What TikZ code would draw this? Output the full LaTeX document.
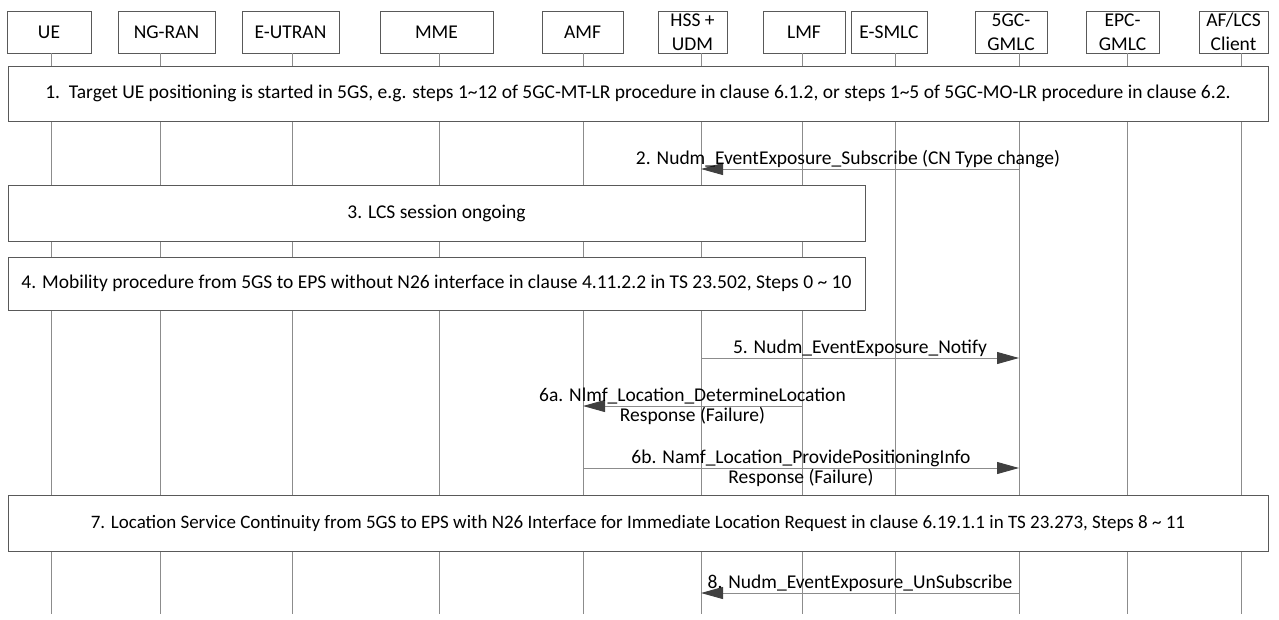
\documentclass[tikz,border=0pt]{standalone}
\usepackage{fontspec}
\setmainfont{Carlito}
\usepackage{tikz}
\usetikzlibrary{arrows.meta,positioning,calc}
\definecolor{boxline}{HTML}{595959}
\definecolor{lifegray}{HTML}{8C8C8C}
\definecolor{headgray}{HTML}{404040}
\tikzset{
    entity/.style={draw=boxline,fill=white,line width=0.9pt,minimum height=42pt,
      inner xsep=2pt,inner ysep=0pt,align=center,
      font=\fontsize{19.5}{24}\selectfont},
    stepbox/.style={draw=boxline,fill=white,line width=0.9pt,inner sep=0pt,
      align=center,font=\fontsize{19.5}{23}\selectfont},
    lifeline/.style={draw=lifegray,line width=0.8pt},
    msg/.style={draw=lifegray,line width=0.9pt,
      -{Triangle[length=22pt,width=12pt,color=headgray]}},
    msglabel/.style={inner sep=1pt,font=\fontsize{19.5}{23}\selectfont}
}
\begin{document}
\begin{tikzpicture}[x=1pt,y=-1pt]
  \useasboundingbox (0,0) rectangle (1279,619);
  \coordinate (bottom) at (0,614);
  % network functions and lifelines
  \foreach \n/\x/\w/\d/\t in {ue/49/84/2/UE, ngran/166.5/97/-6.5/NG-RAN,
      eutran/290.5/97/1.5/E-UTRAN, mme/436.5/113/2.5/MME, amf/582.5/81/0.5/AMF,
      udm/692.5/69/8.5/{HSS +\\UDM}, lmf/804/82/-2/LMF, esmlc/889/76/6/E-SMLC,
      gmlc5/1011/72/8/{5GC-\\GMLC}, gmlcepc/1122.5/73/4.5/{EPC-\\GMLC},
      af/1233.5/69/7.5/{AF/LCS\\Client}}{
    \node[entity,minimum width=\w] (\n) at (\x,32) {\t};
    \coordinate (\n-l) at ([xshift=\d]\n.south);
    \draw[lifeline] (\n-l) -- (\n-l |- bottom);
  }
  % procedure boxes
  \node[stepbox,minimum width=1260,minimum height=55] (s1) at (638,93.5)
    {1.\ \ Target UE positioning is started in 5GS, e.g. steps 1\textasciitilde12 of 5GC-MT-LR procedure in clause 6.1.2, or steps 1\textasciitilde5 of 5GC-MO-LR procedure in clause 6.2.};
  \node[stepbox,minimum width=857,minimum height=56] (s3) at (436.5,213) {3. LCS session ongoing};
  \node[stepbox,minimum width=857,minimum height=53] (s4) at (436.5,283.5)
    {4. Mobility procedure from 5GS to EPS without N26 interface in clause 4.11.2.2 in TS 23.502, Steps 0 \textasciitilde{} 10};
  \node[stepbox,minimum width=1260,minimum height=56,font=\fontsize{19}{23}\selectfont] (s7) at (638,523)
    {7. Location Service Continuity from 5GS to EPS with N26 Interface for Immediate Location Request in clause 6.19.1.1 in TS 23.273, Steps 8 \textasciitilde{} 11};
  % messages
  \coordinate (m2) at (0,169);
  \coordinate (m5) at (0,358);
  \coordinate (m6a) at (0,406);
  \coordinate (m6b) at (0,468);
  \coordinate (m8) at (0,593);
  \draw[msg] (gmlc5-l |- m2) -- node[msglabel,above,xshift=-12pt] (l2)
    {2. Nudm\_EventExposure\_Subscribe (CN Type change)} (udm-l |- m2);
  \draw[msg] (udm-l |- m5) -- node[msglabel,above] (l5)
    {5. Nudm\_EventExposure\_Notify} (gmlc5-l |- m5);
  \draw[msg] (lmf-l |- m6a) -- node[msglabel,above] (l6a)
    {6a. Nlmf\_Location\_DetermineLocation} node[msglabel,below] (l6ar)
    {Response (Failure)} (amf-l |- m6a);
  \draw[msg] (amf-l |- m6b) -- node[msglabel,above] (l6b)
    {6b. Namf\_Location\_ProvidePositioningInfo} node[msglabel,below] (l6br)
    {Response (Failure)} (gmlc5-l |- m6b);
  \draw[msg] (gmlc5-l |- m8) -- node[msglabel,above] (l8)
    {8. Nudm\_EventExposure\_UnSubscribe} (udm-l |- m8);
\end{tikzpicture}
\end{document}
